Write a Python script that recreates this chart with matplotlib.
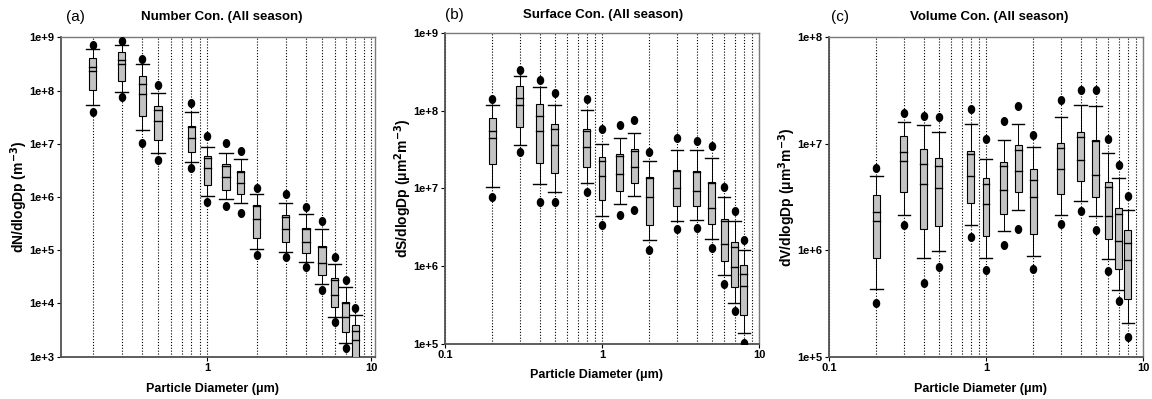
import numpy as np
import matplotlib
matplotlib.use('Agg')
import matplotlib.pyplot as plt
from matplotlib.patches import Rectangle
from matplotlib.path import Path
from matplotlib.transforms import Affine2D
from matplotlib.ticker import FixedLocator, FuncFormatter, NullFormatter, NullLocator

plt.rcParams['font.family'] = ['Liberation Sans', 'DejaVu Sans']

# Stage cut-point diameters (um)
diameter = [0.2, 0.3, 0.4, 0.5, 0.8, 1.0, 1.3, 1.6, 2.0, 3.0, 4.0, 5.0, 6.0, 7.0, 8.0]

# Number concentration (m^-3): 5th/10th/25th/50th/mean/75th/90th/95th
num_p5 = [4.0e7, 7.7e7, 1.02e7, 4.95e6, 3.5e6, 8.1e5, 6.9e5, 5.1e5, 8.1e4, 7.6e4, 4.8e4, 1.8e4, 4.4e3, 1.47e3, 2e2]
num_p10 = [5.3e7, 9.5e7, 1.8e7, 6.6e6, 4.5e6, 1.06e6, 9.1e5, 7.6e5, 1.05e5, 9.4e4, 5.9e4, 2.3e4, 5.6e3, 1.83e3, 3e2]
num_q1 = [1.02e8, 1.53e8, 3.3e7, 1.17e7, 7.1e6, 1.68e6, 1.35e6, 1.12e6, 1.68e5, 1.45e5, 9.0e4, 3.5e4, 8.5e3, 2.9e3, 6e2]
num_median = [2.3e8, 3.1e8, 8.7e7, 2.7e7, 1.3e7, 3.46e6, 2.34e6, 1.8e6, 3.9e5, 2.5e5, 1.45e5, 5.7e4, 1.44e4, 5.5e3, 2.05e3]
num_mean = [2.8e8, 3.75e8, 1.33e8, 4.3e7, 2.1e7, 5.3e6, 3.8e6, 2.9e6, 6.8e5, 4.2e5, 2.5e5, 1.15e5, 2.8e4, 1.0e4, 3.0e3]
num_q3 = [4.0e8, 5.2e8, 1.87e8, 5.1e7, 2.19e7, 5.9e6, 4.2e6, 3.1e6, 7.1e5, 4.5e5, 2.6e5, 1.22e5, 2.95e4, 1.08e4, 3.9e3]
num_p90 = [6.0e8, 7.2e8, 3.15e8, 8.9e7, 3.9e7, 8.8e6, 6.6e6, 5.1e6, 1.12e6, 7.8e5, 4.7e5, 2.5e5, 5.5e4, 2.07e4, 6.1e3]
num_p95 = [7.2e8, 8.6e8, 3.9e8, 1.27e8, 5.75e7, 1.4e7, 1.02e7, 7.3e6, 1.5e6, 1.12e6, 6.6e5, 3.6e5, 7.5e4, 2.75e4, 8.3e3]

# Surface concentration (um^2 m^-3)
sur_p5 = [7.7e6, 2.9e7, 6.6e6, 6.6e6, 8.9e6, 3.4e6, 4.6e6, 5.3e6, 1.63e6, 3.0e6, 3.1e6, 1.71e6, 5.9e5, 2.63e5, 1.03e5]
sur_p10 = [1.04e7, 3.6e7, 1.15e7, 9.0e6, 1.16e7, 4.46e6, 6.3e6, 7.9e6, 2.15e6, 3.78e6, 3.9e6, 2.25e6, 7.8e5, 3.4e5, 1.39e5]
sur_q1 = [2.06e7, 6.1e7, 2.14e7, 1.56e7, 1.86e7, 7.0e6, 9.2e6, 1.17e7, 3.4e6, 5.9e6, 5.9e6, 3.5e6, 1.17e6, 5.4e5, 2.34e5]
sur_median = [4.5e7, 1.19e8, 5.5e7, 3.6e7, 3.4e7, 1.46e7, 1.54e7, 1.86e7, 7.7e6, 1.01e7, 9.3e6, 5.6e6, 1.95e6, 9.8e5, 5.5e5]
sur_mean = [5.5e7, 1.45e8, 8.5e7, 5.8e7, 5.4e7, 2.23e7, 2.63e7, 3.0e7, 1.36e7, 1.69e7, 1.62e7, 1.17e7, 3.78e6, 1.77e6, 7.9e5]
sur_q3 = [8.0e7, 2.05e8, 1.2e8, 6.8e7, 5.8e7, 2.5e7, 2.8e7, 3.2e7, 1.4e7, 1.74e7, 1.69e7, 1.2e7, 4.07e6, 2.03e6, 1.04e6]
sur_p90 = [1.17e8, 2.75e8, 1.99e8, 1.19e8, 1.03e8, 3.75e7, 4.4e7, 5.1e7, 2.26e7, 3.1e7, 3.1e7, 2.45e7, 7.7e6, 3.8e6, 1.63e6]
sur_p95 = [1.42e8, 3.35e8, 2.45e8, 1.68e8, 1.42e8, 5.8e7, 6.6e7, 7.5e7, 2.9e7, 4.4e7, 4.1e7, 3.5e7, 1.03e7, 5.1e6, 2.19e6]

# Volume concentration (um^3 m^-3)
vol_p5 = [3.2e5, 1.71e6, 4.95e5, 7.0e5, 1.33e6, 6.5e5, 1.11e6, 1.59e6, 6.7e5, 1.75e6, 2.32e6, 1.56e6, 6.4e5, 3.33e5, 1.53e5]
vol_p10 = [4.35e5, 2.13e6, 8.5e5, 9.8e5, 1.74e6, 8.45e5, 1.51e6, 2.37e6, 8.8e5, 2.16e6, 2.9e6, 2.08e6, 8.3e5, 4.27e5, 2.07e5]
vol_q1 = [8.4e5, 3.52e6, 1.59e6, 1.69e6, 2.78e6, 1.35e6, 2.2e6, 3.52e6, 1.43e6, 3.4e6, 4.44e6, 3.16e6, 1.27e6, 6.6e5, 3.46e5]
vol_median = [1.87e6, 6.9e6, 4.16e6, 3.87e6, 4.98e6, 2.74e6, 3.7e6, 5.55e6, 3.16e6, 5.8e6, 7.0e6, 5.06e6, 2.1e6, 1.21e6, 8.1e5]
vol_mean = [2.29e6, 8.4e6, 6.4e6, 6.2e6, 7.95e6, 4.2e6, 6.2e6, 8.8e6, 4.6e6, 9.2e6, 1.17e7, 1.07e7, 3.93e6, 2.2e6, 1.18e6]
vol_q3 = [3.28e6, 1.18e7, 8.9e6, 7.4e6, 8.55e6, 4.8e6, 6.8e6, 9.7e6, 5.8e6, 1.02e7, 1.29e7, 1.09e7, 4.38e6, 2.51e6, 1.56e6]
vol_p90 = [4.94e6, 1.6e7, 1.49e7, 1.29e7, 1.52e7, 7.2e6, 1.08e7, 1.55e7, 9.3e6, 1.78e7, 2.3e7, 2.25e7, 8.25e6, 4.8e6, 2.4e6]
vol_p95 = [5.9e6, 1.96e7, 1.82e7, 1.78e7, 2.14e7, 1.12e7, 1.63e7, 2.27e7, 1.22e7, 2.6e7, 3.18e7, 3.18e7, 1.12e7, 6.3e6, 3.2e6]

W, H = 1152, 399
fig = plt.figure(figsize=(W / 100, H / 100), dpi=100)

# slightly tall filled dot for the 5th/95th percentiles
dot = Affine2D().scale(0.8, 1.0).transform_path(Path.unit_circle())


def px_axes(left, top, right, bottom):
    return fig.add_axes([left / W, 1 - bottom / H, (right - left) / W, (bottom - top) / H])


def draw_boxes(ax, p5, p10, q1, median, mean, q3, p90, p95):
    half = 10 ** 0.022
    cap = 10 ** 0.04
    for i, d in enumerate(diameter):
        ax.plot([d, d], [q3[i], p90[i]], color='k', lw=0.7, zorder=2)
        ax.plot([d, d], [p10[i], q1[i]], color='k', lw=0.7, zorder=2)
        ax.plot([d / cap, d * cap], [p90[i], p90[i]], color='k', lw=1.0, zorder=2)
        ax.plot([d / cap, d * cap], [p10[i], p10[i]], color='k', lw=1.0, zorder=2)
        ax.add_patch(Rectangle((d / half, q1[i]), d * half - d / half, q3[i] - q1[i],
                               facecolor='#c3c3c3', edgecolor='k', lw=0.8, zorder=3))
        ax.plot([d / half, d * half], [median[i], median[i]], color='k', lw=1.0, zorder=4)
        ax.plot([d / half, d * half], [mean[i], mean[i]], color='k', lw=1.0, zorder=4)
    ax.plot(diameter, p5, ls='none', marker=dot, ms=5.5, color='k', zorder=5)
    ax.plot(diameter, p95, ls='none', marker=dot, ms=5.5, color='k', zorder=5)


def style_axes(ax, xlim, ylim):
    ax.set_xscale('log')
    ax.set_yscale('log')
    ax.set_xlim(*xlim)
    ax.set_ylim(*ylim)
    ax.xaxis.set_major_locator(FixedLocator([0.1, 1, 10]))
    ax.xaxis.set_minor_locator(FixedLocator([0.2, 0.3, 0.4, 0.5, 0.6, 0.7, 0.8, 0.9,
                                             2, 3, 4, 5, 6, 7, 8, 9]))
    ax.xaxis.set_major_formatter(FuncFormatter(lambda v, p: f'{v:g}'))
    ax.xaxis.set_minor_formatter(NullFormatter())
    lo, hi = int(np.log10(ylim[0])), int(np.log10(ylim[1]))
    ax.yaxis.set_major_locator(FixedLocator([10.0 ** k for k in range(lo, hi + 1)]))
    ax.yaxis.set_minor_locator(NullLocator())
    ax.yaxis.set_major_formatter(FuncFormatter(lambda v, p: f'1e+{int(round(np.log10(v)))}'))
    ax.grid(True, which='both', axis='x', color='k', lw=0.8, ls=(0, (1, 1.6)), zorder=1)
    ax.set_axisbelow(True)
    ax.tick_params(which='major', direction='out', length=3, width=0.8, pad=1.5,
                   labelsize=8, colors='k')
    ax.tick_params(which='minor', length=0)
    for lab in ax.get_xticklabels() + ax.get_yticklabels():
        lab.set_fontweight('bold')
    for side in ['left', 'bottom']:
        ax.spines[side].set_color('#505050')
        ax.spines[side].set_linewidth(1.3)
    for side in ['top', 'right']:
        ax.spines[side].set_color('#7a7a7a')
        ax.spines[side].set_linewidth(1.0)


# (a) number
ax_a = px_axes(61, 37.3, 375, 356.7)
draw_boxes(ax_a, num_p5, num_p10, num_q1, num_median, num_mean, num_q3, num_p90, num_p95)
style_axes(ax_a, (0.128, 10.54), (1e3, 1e9))

# (b) surface
ax_b = px_axes(445, 32.7, 759, 344)
draw_boxes(ax_b, sur_p5, sur_p10, sur_q1, sur_median, sur_mean, sur_q3, sur_p90, sur_p95)
style_axes(ax_b, (0.1, 10), (1e5, 1e9))

# (c) volume
ax_c = px_axes(829, 37.3, 1143, 356.7)
draw_boxes(ax_c, vol_p5, vol_p10, vol_q1, vol_median, vol_mean, vol_q3, vol_p90, vol_p95)
style_axes(ax_c, (0.1, 10), (1e5, 1e8))


def ftext(x, y, s, **kw):
    fig.text(x / W, 1 - y / H, s, ha='center', va='center', **kw)


ftext(75, 17, '(a)', fontsize=11)
ftext(222, 17, 'Number Con. (All season)', fontsize=9.5, fontweight='bold')
ftext(454, 15, '(b)', fontsize=11)
ftext(603, 15, 'Surface Con. (All season)', fontsize=9.5, fontweight='bold')
ftext(840, 17, '(c)', fontsize=11)
ftext(989, 17, 'Volume Con. (All season)', fontsize=9.5, fontweight='bold')

for x, y in [(213, 389), (597, 375), (980, 389)]:
    ftext(x, y, 'Particle Diameter (μm)', fontsize=9, fontweight='bold')

ftext(19, 197, 'dN/dlogDp (m$^{\\mathbf{-3}}$)', fontsize=10, fontweight='bold', rotation=90)
ftext(403, 188, 'dS/dlogDp (μm$^{\\mathbf{2}}$m$^{\\mathbf{-3}}$)', fontsize=10, fontweight='bold', rotation=90)
ftext(787, 197, 'dV/dlogDp (μm$^{\\mathbf{3}}$m$^{\\mathbf{-3}}$)', fontsize=10, fontweight='bold', rotation=90)

fig.savefig('out.png', dpi=100)
